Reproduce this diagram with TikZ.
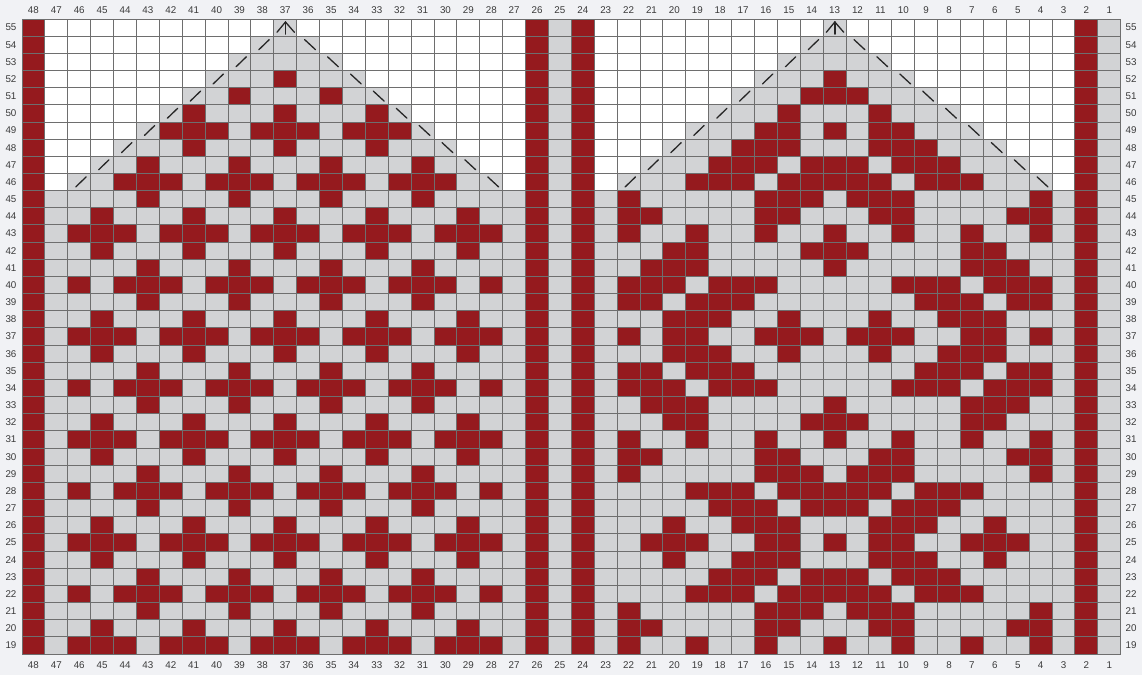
\documentclass[tikz,border=0pt]{standalone}
\usepackage{fontspec}
\setmainfont{Liberation Sans}
\definecolor{cred}{HTML}{951A1E}
\definecolor{cgrey}{HTML}{D2D3D5}
\definecolor{cbg}{HTML}{F1F2F5}
\definecolor{cline}{HTML}{6E6E6E}
\definecolor{ctext}{HTML}{3A3A3A}
\def\chw{22.89}
\def\chh{17.16}
\newcommand\redrow[2]{\foreach \cc in #2 {\fill[cred] ({22+(48-\cc)*\chw},{21+(#1-19)*\chh}) rectangle ++(\chw,\chh);}}
% left half row types
\def\LA{46,45,44,42,41,40,38,37,36,34,33,32,30,29,28}
\def\LB{45,41,37,33,29}
\def\LC{43,39,35,31}
\def\LD{46,44,43,42,40,39,38,36,35,34,32,31,30,28}
% right half row types
\def\RX{22,19,16,13,10,7,4}
\def\RSa{22,21,16,15,11,10,5,4}
\def\RSb{22,16,15,14,12,11,10,4}
\def\RSc{19,18,17,15,14,13,12,11,9,8,7}
\def\RSd{18,17,16,14,13,12,10,9,8}
\def\RSe{20,17,16,15,11,10,9,6}
\def\RSf{21,20,19,16,15,13,11,10,7,6,5}
\def\RDa{20,19,14,13,12,7,6}
\def\RDb{21,20,19,13,7,6,5}
\def\RDc{22,21,20,18,17,16,10,9,8,6,5,4}
\def\RDd{22,21,19,18,17,9,8,7,5,4}
\def\RDe{20,19,18,15,11,8,7,6}
\def\RDf{22,20,19,16,15,14,12,11,10,7,6,4}
\begin{document}
\begin{tikzpicture}[x=1pt,y=1pt,
  lab/.style={text=ctext,font=\fontsize{9.8}{11}\selectfont,inner sep=0pt},
  gl/.style={draw=cline,line width=1pt},
  sl/.style={draw=black!85,line width=1.3pt,line cap=round}]
\useasboundingbox (0,0) rectangle (1142,675);
\fill[cbg] (0,0) rectangle (1142,675);
% base fills
\fill[white] (22,21) rectangle ({22+48*\chw},{21+37*\chh});
\fill[cgrey] (22,21) rectangle ({22+48*\chw},{21+27*\chh});
\fill[cgrey] ({22+23*\chw},{21+27*\chh}) rectangle ++(\chw,{10*\chh});
\fill[cgrey] ({22+47*\chw},{21+27*\chh}) rectangle ++(\chw,{10*\chh});
\foreach \r in {46,...,55} {
  \fill[cgrey] ({22+(\r-44)*\chw},{21+(\r-19)*\chh}) rectangle ({22+(67-\r)*\chw},{21+(\r-18)*\chh});
  \fill[cgrey] ({22+(\r-20)*\chw},{21+(\r-19)*\chh}) rectangle ({22+(91-\r)*\chw},{21+(\r-18)*\chh});
}
% red columns
\foreach \i in {0,22,24,46} {\fill[cred] ({22+\i*\chw},21) rectangle ++(\chw,{37*\chh});}
% pattern
\redrow{19}{\LA}\redrow{19}{\RX}
\redrow{20}{\LB}\redrow{20}{\RSa}
\redrow{21}{\LC}\redrow{21}{\RSb}
\redrow{22}{\LD}\redrow{22}{\RSc}
\redrow{23}{\LC}\redrow{23}{\RSd}
\redrow{24}{\LB}\redrow{24}{\RSe}
\redrow{25}{\LA}\redrow{25}{\RSf}
\redrow{26}{\LB}\redrow{26}{\RSe}
\redrow{27}{\LC}\redrow{27}{\RSd}
\redrow{28}{\LD}\redrow{28}{\RSc}
\redrow{29}{\LC}\redrow{29}{\RSb}
\redrow{30}{\LB}\redrow{30}{\RSa}
\redrow{31}{\LA}\redrow{31}{\RX}
\redrow{32}{\LB}\redrow{32}{\RDa}
\redrow{33}{\LC}\redrow{33}{\RDb}
\redrow{34}{\LD}\redrow{34}{\RDc}
\redrow{35}{\LC}\redrow{35}{\RDd}
\redrow{36}{\LB}\redrow{36}{\RDe}
\redrow{37}{\LA}\redrow{37}{\RDf}
\redrow{38}{\LB}\redrow{38}{\RDe}
\redrow{39}{\LC}\redrow{39}{\RDd}
\redrow{40}{\LD}\redrow{40}{\RDc}
\redrow{41}{\LC}\redrow{41}{\RDb}
\redrow{42}{\LB}\redrow{42}{\RDa}
\redrow{43}{\LA}\redrow{43}{\RX}
\redrow{44}{\LB}\redrow{44}{\RSa}
\redrow{45}{\LC}\redrow{45}{\RSb}
\redrow{46}{{44,43,42,40,39,38,36,35,34,32,31,30}}\redrow{46}{\RSc}
\redrow{47}{\LC}\redrow{47}{\RSd}
\redrow{48}{{41,37,33}}\redrow{48}{{17,16,15,11,10,9}}
\redrow{49}{{42,41,40,38,37,36,34,33,32}}\redrow{49}{{16,15,13,11,10}}
\redrow{50}{{41,37,33}}\redrow{50}{{15,11}}
\redrow{51}{{39,35}}\redrow{51}{{14,13,12}}
\redrow{52}{{37}}\redrow{52}{{13}}
% grid lines
\foreach \i in {0,...,48} {\draw[gl] ({22+\i*\chw},21) -- ++(0,{37*\chh});}
\foreach \j in {0,...,37} {\draw[gl] (22,{21+\j*\chh}) -- ++({48*\chw},0);}
% decrease symbols
\foreach \r in {46,...,54} {
  \draw[sl] ({22+(\r-44+0.35)*\chw},{21+(\r-19+0.22)*\chh}) -- ({22+(\r-44+0.8)*\chw},{21+(\r-19+0.8)*\chh});
  \draw[sl] ({22+(66-\r+0.35)*\chw},{21+(\r-19+0.8)*\chh}) -- ({22+(66-\r+0.82)*\chw},{21+(\r-19+0.22)*\chh});
  \draw[sl] ({22+(\r-20+0.35)*\chw},{21+(\r-19+0.22)*\chh}) -- ({22+(\r-20+0.8)*\chw},{21+(\r-19+0.8)*\chh});
  \draw[sl] ({22+(90-\r+0.35)*\chw},{21+(\r-19+0.8)*\chh}) -- ({22+(90-\r+0.82)*\chw},{21+(\r-19+0.22)*\chh});
}
\foreach \i in {11,35} {
  \draw[sl,line join=miter] ({22+(\i+0.14)*\chw},{21+36.23*\chh}) -- ({22+(\i+0.51)*\chw},{21+36.83*\chh}) -- ({22+(\i+0.9)*\chw},{21+36.23*\chh});
  \draw[sl,line width=1.9pt] ({22+(\i+0.51)*\chw},{21+36.83*\chh}) -- ({22+(\i+0.51)*\chw},{21+36.13*\chh});
}
% labels
\foreach \c in {1,...,48} {
  \node[lab] (t\c) at ({22+(48-\c+0.5)*\chw},664.5) {\c};
  \node[lab] (b\c) at ({22+(48-\c+0.5)*\chw},10) {\c};
}
\foreach \r in {19,...,55} {
  \node[lab] (l\r) at (11,{21+(\r-19+0.5)*\chh}) {\r};
  \node[lab] (q\r) at (1131,{21+(\r-19+0.5)*\chh}) {\r};
}
\end{tikzpicture}
\end{document}
